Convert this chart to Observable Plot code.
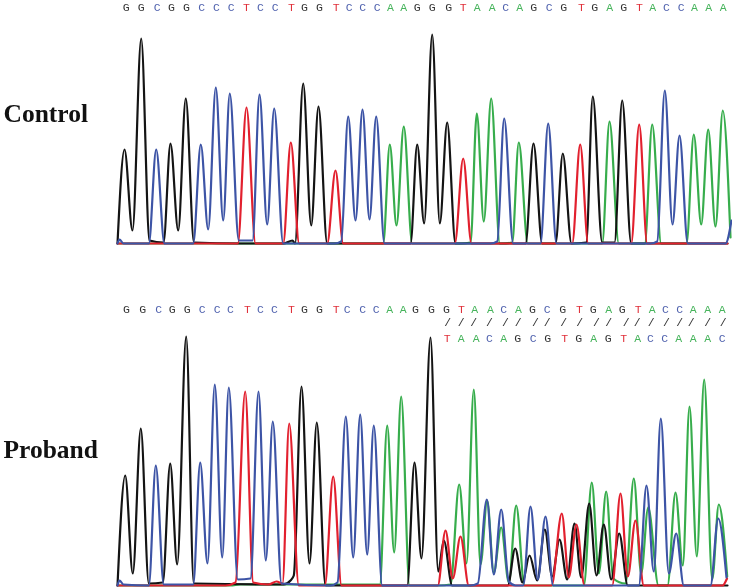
<!DOCTYPE html>
<html><head><meta charset="utf-8">
<script src="https://cdn.jsdelivr.net/npm/d3@7"></script>
<script src="https://cdn.jsdelivr.net/npm/@observablehq/plot@0.6"></script>
<style>html,body{margin:0;padding:0;background:#fff}#c{width:732px;height:588px;overflow:hidden}svg{display:block;filter:blur(0.35px)}</style>
</head><body><div id="c"></div>
<script>
// Trace knots: [scan position, signal]
const controlBlack=[[117,0],[124,94],[132,13],[140.7,205],[149,3],[163,1],[170,100],[177.7,13],[185.3,145],[193.5,1],[240,0],[283,0],[292,3],[294.5,0],[302.7,160],[310.7,18],[318,137],[326.7,0],[410,0],[416.7,99],[423.7,20],[431.7,209],[439.3,20],[446.7,121],[455,0],[525,0],[533,100],[541.7,0],[555,0],[562.3,90],[571,0],[585.7,1],[592.3,147],[601.7,1],[614,1],[621.7,143],[630.7,0],[727,0]];
const controlRed=[[117,0],[237.3,0],[246,136],[255,0],[282.7,0],[290.3,101],[298.7,0],[326.7,0],[335,73],[342.7,0],[454.3,0],[462.7,85],[471,0],[571.7,0],[579.7,99],[587.7,0],[630.7,0],[638.7,119],[646.7,0],[727,0]];
const controlGreen=[[117,0],[382.7,0],[389.3,99],[396,18],[403.3,117],[411.7,0],[460,0],[470,1],[476.3,130],[483.3,22],[490.7,145],[499.3,0],[511.7,1],[518.3,101],[527.3,0],[601.7,0],[609,122],[618.3,0],[644.3,0],[651.7,119],[660.7,0],[686,0],[693.3,109],[700.7,19],[707.7,114],[715,17],[722.3,133],[730,6]];
const controlBlue=[[117,0],[119,4],[123,0],[148.3,0],[155.7,94],[164,0],[192.7,0],[200.3,99],[207.7,14],[215.3,156],[222.7,23],[229.3,150],[238.3,3],[252,3],[259,149],[266.7,19],[273.7,135],[282.7,0],[334,0],[340.7,2],[347.7,127],[355,23],[362,134],[369,24],[375.7,127],[384,0],[490,0],[496.7,2],[503.7,125],[512.7,0],[540,0],[547.7,120],[556,0],[650,0],[656.7,2],[664.3,153],[672,19],[679,108],[687.3,0],[725,0],[731,23]];

const probandBlack=[[117,0],[124.7,110],[132.3,12],[140.3,157],[148.3,2],[162.3,3],[169.7,122],[176.7,21],[185.7,249],[193.3,2],[283,1],[290,5],[293.3,10],[301,199],[309,22],[316.3,163],[325,0],[406.7,0],[414,123],[421,27],[430,248],[437.7,14],[443.3,45],[451.7,0],[507.3,0],[514.7,37],[522,3],[529,30],[536.7,5],[544.3,56],[551.7,9],[559,46],[566.7,6],[574,62],[580.7,8],[588.7,82],[596,10],[603.3,61],[610.7,6],[618.7,52],[627.3,0],[727,0]];
const probandRed=[[117,0],[225,0],[235,3],[244.7,194],[252.7,3],[268,1],[276,4],[282,2],[288.7,162],[298.3,0],[324.3,0],[332.7,109],[341,0],[437.3,0],[445,55],[452.3,7],[460,49],[468.3,0],[551,0],[561.3,72],[568.3,8],[576,61],[584,0],[611.7,0],[620,92],[627.3,9],[635,65],[643.3,0],[722,0],[726.5,7]];
const probandGreen=[[117,0],[230,0],[240,1],[379.3,1],[386.7,160],[393.7,33],[400.7,189],[409,0],[438,0],[450,1],[458.7,101],[466,22],[473.3,196],[480,21],[486.7,85],[493.3,13],[500.7,58],[508.3,3],[515.7,80],[524,0],[583.3,0],[591.3,103],[598.3,12],[605.7,94],[612.7,7],[625,2],[633.3,107],[640.7,12],[647.7,78],[658,0],[667,0],[675,93],[682.3,20],[689,179],[696.3,29],[703.7,206],[711.7,6],[718.3,81],[726.7,9]];
const probandBlue=[[117,0],[119,5],[123,1],[148.3,0],[155.3,120],[163.3,1],[192.7,1],[199.7,123],[207,22],[214.3,201],[221.7,28],[228.3,198],[237.3,6],[250,7],[258,194],[265.3,25],[272.3,164],[281,2],[330,0],[337,3],[345.3,169],[352.7,28],[359.7,171],[366.7,31],[373.3,160],[381.7,0],[470,0],[477.3,2],[486.3,86],[493.3,11],[500.7,76],[508.3,4],[515,0],[522.7,0],[530,79],[537.3,6],[545,69],[552.7,0],[638.3,0],[646,100],[653.3,14],[660.3,167],[668.3,12],[675.7,52],[683.3,0],[710,0],[717.7,67],[726,8]];

// Base calls and tick positions
const controlBases="GGCGGCCCTCCTGGTCCCAAGGGTAACAGCGTGAGTACCAAA".split("");
const controlBasePos=[125.7,140.7,156.7,171,186,201.3,216,230.7,246,260,274.7,291,304,319,335.7,348.7,362.3,376.7,390,403.3,416.7,431.7,448.3,462.7,476.7,491.7,505.3,519.3,533.3,548.7,563.3,581,594.3,609.3,623.3,639,652.3,666,680.7,694,708.3,722.7];
const probandBases="GGCGGCCCTCCTGGTCCCAAGGGTAACAGCGTGAGTACCAAA".split("");
const probandBasePos=[126,142.3,158.3,171.7,186.7,201.7,216.7,230,247,260,274,291,304,319,335.7,346.7,362.3,375.7,389.3,402.7,415,431,446,461,474.3,490,503.3,518,532,546.7,562.3,579,592.7,608.3,621.7,637.7,651.7,665,679.3,692.7,707.3,721.7];
const shiftedBases="TAACAGCGTGAGTACCAAAC".split("");
const shiftedBasePos=[446.7,460.7,475.7,489,503.3,517.3,532.7,547.3,564.3,578.3,593.3,607.7,623.3,637.3,650,664.3,678.3,692.7,707.3,721.7];
const slashPos=[447.3,460.7,473.3,489,505,517.7,535,546.7,563.3,579.3,596,608.3,625.7,636.7,650.7,666,679.3,690.7,707.3,722.7];

const traceColors={black:"#141414",green:"#37ad4c",red:"#e2202e",blue:"#3d54a6"};
const baseColors={G:"#333333",C:"#5062ae",T:"#e0303a",A:"#47b45c"};
const letterFont="'Liberation Mono', monospace";

function letters(chars,pos,y){
  return Plot.text(chars,{x:(d,i)=>pos[i],y:()=>y,text:d=>d,fill:d=>baseColors[d],fontSize:11.5,fontFamily:letterFont});
}
function trace(data,color){
  return Plot.line(data,{x:d=>d[0],y:d=>d[1],stroke:traceColors[color],strokeWidth:2.2,curve:"monotone-x",strokeLinejoin:"round"});
}
function label(name,y){
  return Plot.text([name],{x:()=>3,y:()=>y,text:d=>d,textAnchor:"start",fontFamily:"'Liberation Serif', serif",fontWeight:"bold",fontSize:25.5,fill:"#111"});
}
function panel(height,yDomain,marks){
  return Plot.plot({width:732,height,margin:0,
    x:{domain:[0,732],range:[0,732],axis:null},
    y:{domain:yDomain,range:[height,0],axis:null},
    marks});
}
const host=document.getElementById("c");
host.append(panel(290,[-47,243],[
  letters(controlBases,controlBasePos,236.5),
  trace(controlGreen,"green"),trace(controlBlack,"black"),trace(controlRed,"red"),trace(controlBlue,"blue"),
  label("Control",130)
]));
host.append(panel(298,[-3,295],[
  letters(probandBases,probandBasePos,276.5),
  Plot.text(slashPos,{x:d=>d,y:()=>263,text:()=>"/",fill:"#333",fontSize:11.5,fontFamily:letterFont}),
  letters(shiftedBases,shiftedBasePos,247.3),
  trace(probandGreen,"green"),trace(probandBlack,"black"),trace(probandRed,"red"),trace(probandBlue,"blue"),
  label("Proband",136)
]));
</script></body></html>
